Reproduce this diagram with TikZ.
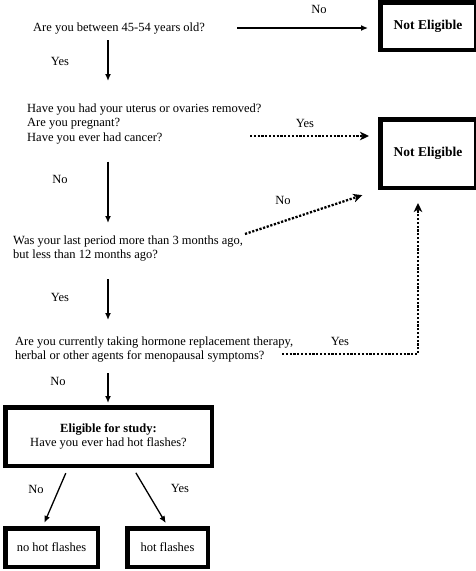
\documentclass[tikz,border=0pt]{standalone}
\usepackage{fontspec}
\setmainfont{Liberation Serif}
\usetikzlibrary{arrows.meta}

\begin{document}
\begin{tikzpicture}[x=1pt,y=-1pt,
    txt/.style={inner sep=0pt, align=left, font=\fontsize{12.5}{14.5}\selectfont},
    lbl/.style={inner sep=0pt, anchor=base, font=\fontsize{12.5}{14.5}\selectfont},
    endbox/.style={draw, line width=4.5pt, inner sep=0pt, align=center,
      font=\fontsize{12.5}{14}\selectfont},
    arr/.style={line width=1.3pt, -{Latex[length=7pt,width=6pt]}},
    dotarr/.style={line width=2.3pt, dash pattern=on 2.2pt off 1.6pt,
      -{Stealth[length=9pt,width=8.5pt,inset=2.5pt]}}]
  \useasboundingbox (0,0) rectangle (476,571);

  % Preguntas
  \node[txt, anchor=base west] (q1) at (33,31) {Are you between 45-54 years old?};
  \node[txt, anchor=north west] (q2) at (27,103.5)
    {Have you had your uterus or ovaries removed?\\Are you pregnant?\\Have you ever had cancer?};
  \node[txt, anchor=north west] (q3) at (13,235.5)
    {Was your last period more than 3 months ago,\\but less than 12 months ago?};
  \node[txt, anchor=north west] (q4) at (15,336.5)
    {Are you currently taking hormone replacement therapy,\\herbal or other agents for menopausal symptoms?};

  % Cajas
  \node[endbox, minimum width=95.5pt, minimum height=47.5pt] (ne1) at (428,26)
    {\fontsize{13.5}{15}\selectfont\bfseries Not Eligible};
  \node[endbox, minimum width=95.5pt, minimum height=68.5pt] (ne2) at (428,153.5)
    {\fontsize{13.5}{15}\selectfont\bfseries Not Eligible};
  \node[endbox, minimum width=206.5pt, minimum height=58.5pt] (elig) at (108.5,436.5)
    {\textbf{Eligible for study:}\\Have you ever had hot flashes?};
  \node[endbox, minimum width=92.5pt, minimum height=38.5pt] (nohf) at (51.5,547.5) {no hot flashes};
  \node[endbox, minimum width=80.5pt, minimum height=38.5pt] (hf) at (167.5,547.5) {hot flashes};

  \coordinate (spine) at (108,0);
  \coordinate (d2) at (250,136);
  \coordinate (d3) at (245,234);
  \coordinate (d4) at (282,354);

  % Flechas principales
  \draw[arr, shorten <=32pt, shorten >=10pt] (q1.east) -- (q1.east -| ne1.west);
  \draw[arr, shorten <=6.3pt, shorten >=22.5pt] (q1.south -| spine) -- (q2.north -| spine);
  \draw[arr, shorten <=17.3pt, shorten >=12.5pt] (q2.south -| spine) -- (q3.north -| spine);
  \draw[arr, shorten <=17.3pt, shorten >=16.5pt] (q3.south -| spine) -- (q4.north -| spine);
  \draw[arr, shorten <=10.3pt, shorten >=2pt] (q4.south -| spine) -- (elig.north -| spine);
  \draw[arr, shorten <=5.6pt, shorten >=3.4pt] ([xshift=-40.5pt]elig.south) -- ([xshift=-8.5pt]nohf.north);
  \draw[arr, shorten <=5.6pt, shorten >=3.4pt] ([xshift=24.5pt]elig.south) -- (hf.north);

  % Flechas punteadas
  \draw[dotarr, shorten >=9pt] (d2) -- (d2 -| ne2.west);
  \draw[dotarr, shorten >=16.5pt] (d3) -- (ne2.south west);
  \draw[dotarr, shorten >=13pt] (d4) -| ([xshift=-10pt]ne2.south);

  % Etiquetas
  \node[lbl] (l1) at (319,13) {No};
  \node[lbl] (l2) at (60,65) {Yes};
  \node[lbl] (l3) at (305,127) {Yes};
  \node[lbl] (l4) at (60,183) {No};
  \node[lbl] (l5) at (283,204) {No};
  \node[lbl] (l6) at (60,301) {Yes};
  \node[lbl] (l7) at (340,345) {Yes};
  \node[lbl] (l8) at (58,385) {No};
  \node[lbl] (l9) at (36,493) {No};
  \node[lbl] (l10) at (180,492) {Yes};
\end{tikzpicture}
\end{document}
